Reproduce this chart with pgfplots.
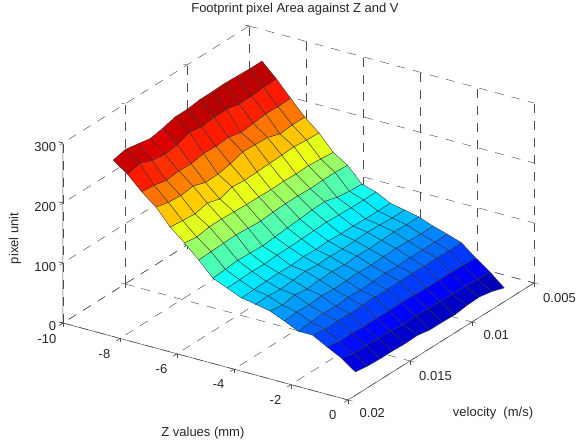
\documentclass[border=0pt]{standalone}
\usepackage{pgfplots}
\pgfplotsset{compat=1.18}
\usepackage{pgfplotstable}
\usepackage{fontspec}
\setmainfont{Liberation Sans}
\pgfplotstableread{
x y z
-8.5 0.0194 283
-8.5 0.0184 288
-8.5 0.0174 284
-8.5 0.0164 280
-8.5 0.0154 284
-8.5 0.0144 290
-8.5 0.0134 290
-8.5 0.0124 293
-8.5 0.0114 293
-8.5 0.0104 294
-8.5 0.0094 293
-8.5 0.0084 292
-8.5 0.0074 292
-8 0.0194 266
-8 0.0184 271
-8 0.0174 263
-8 0.0164 260
-8 0.0154 263
-8 0.0144 271
-8 0.0134 267
-8 0.0124 270
-8 0.0114 270
-8 0.0104 266
-8 0.0094 266
-8 0.0084 268
-8 0.0074 269
-7.5 0.0194 243
-7.5 0.0184 241
-7.5 0.0174 236
-7.5 0.0164 239
-7.5 0.0154 238
-7.5 0.0144 242
-7.5 0.0134 241
-7.5 0.0124 243
-7.5 0.0114 238
-7.5 0.0104 240
-7.5 0.0094 243
-7.5 0.0084 242
-7.5 0.0074 243
-7 0.0194 224
-7 0.0184 219
-7 0.0174 217
-7 0.0164 220
-7 0.0154 213
-7 0.0144 214
-7 0.0134 218
-7 0.0124 225
-7 0.0114 224
-7 0.0104 223
-7 0.0094 216
-7 0.0084 218
-7 0.0074 218
-6.5 0.0194 197
-6.5 0.0184 195
-6.5 0.0174 193
-6.5 0.0164 198
-6.5 0.0154 192
-6.5 0.0144 199
-6.5 0.0134 197
-6.5 0.0124 198
-6.5 0.0114 199
-6.5 0.0104 200
-6.5 0.0094 201
-6.5 0.0084 199
-6.5 0.0074 198
-6 0.0194 177
-6 0.0184 174
-6 0.0174 178
-6 0.0164 178
-6 0.0154 177
-6 0.0144 176
-6 0.0134 176
-6 0.0124 175
-6 0.0114 176
-6 0.0104 175
-6 0.0094 176
-6 0.0084 174
-6 0.0074 172
-5.5 0.0194 155
-5.5 0.0184 156
-5.5 0.0174 157
-5.5 0.0164 158
-5.5 0.0154 156
-5.5 0.0144 155
-5.5 0.0134 157
-5.5 0.0124 158
-5.5 0.0114 158
-5.5 0.0104 157
-5.5 0.0094 158
-5.5 0.0084 158
-5.5 0.0074 157
-5 0.0194 131
-5 0.0184 133
-5 0.0174 135
-5 0.0164 134
-5 0.0154 133
-5 0.0144 135
-5 0.0134 137
-5 0.0124 139
-5 0.0114 141
-5 0.0104 142
-5 0.0094 136
-5 0.0084 133
-5 0.0074 132
-4.5 0.0194 121
-4.5 0.0184 122
-4.5 0.0174 123
-4.5 0.0164 122
-4.5 0.0154 124
-4.5 0.0144 124
-4.5 0.0134 125
-4.5 0.0124 126
-4.5 0.0114 127
-4.5 0.0104 126
-4.5 0.0094 125
-4.5 0.0084 125
-4.5 0.0074 125
-4 0.0194 111
-4 0.0184 112
-4 0.0174 113
-4 0.0164 114
-4 0.0154 113
-4 0.0144 115
-4 0.0134 114
-4 0.0124 115
-4 0.0114 114
-4 0.0104 114
-4 0.0094 113
-4 0.0084 113
-4 0.0074 113
-3.5 0.0194 107
-3.5 0.0184 108
-3.5 0.0174 106
-3.5 0.0164 108
-3.5 0.0154 110
-3.5 0.0144 108
-3.5 0.0134 109
-3.5 0.0124 108
-3.5 0.0114 109
-3.5 0.0104 110
-3.5 0.0094 109
-3.5 0.0084 108
-3.5 0.0074 108
-3 0.0194 102
-3 0.0184 99
-3 0.0174 103
-3 0.0164 100
-3 0.0154 102
-3 0.0144 103
-3 0.0134 101
-3 0.0124 103
-3 0.0114 102
-3 0.0104 103
-3 0.0094 104
-3 0.0084 103
-3 0.0074 103
-2.5 0.0194 92
-2.5 0.0184 94
-2.5 0.0174 93
-2.5 0.0164 95
-2.5 0.0154 93
-2.5 0.0144 94
-2.5 0.0134 95
-2.5 0.0124 94
-2.5 0.0114 95
-2.5 0.0104 96
-2.5 0.0094 95
-2.5 0.0084 94
-2.5 0.0074 94
-2 0.0194 81
-2 0.0184 84
-2 0.0174 85
-2 0.0164 84
-2 0.0154 86
-2 0.0144 85
-2 0.0134 86
-2 0.0124 87
-2 0.0114 86
-2 0.0104 87
-2 0.0094 87
-2 0.0084 87
-2 0.0074 87
-1.5 0.0194 81
-1.5 0.0184 78
-1.5 0.0174 79
-1.5 0.0164 78
-1.5 0.0154 79
-1.5 0.0144 80
-1.5 0.0134 79
-1.5 0.0124 80
-1.5 0.0114 80
-1.5 0.0104 79
-1.5 0.0094 80
-1.5 0.0084 79
-1.5 0.0074 79
-1 0.0194 68
-1 0.0184 64
-1 0.0174 65
-1 0.0164 63
-1 0.0154 64
-1 0.0144 63
-1 0.0134 64
-1 0.0124 63
-1 0.0114 62
-1 0.0104 62
-1 0.0094 62
-1 0.0084 61
-1 0.0074 60
-0.5 0.0194 56
-0.5 0.0184 50
-0.5 0.0174 51
-0.5 0.0164 49
-0.5 0.0154 49
-0.5 0.0144 47
-0.5 0.0134 48
-0.5 0.0124 47
-0.5 0.0114 46
-0.5 0.0104 45
-0.5 0.0094 45
-0.5 0.0084 44
-0.5 0.0074 43
0 0.0194 39
0 0.0184 36
0 0.0174 35
0 0.0164 35
0 0.0154 34
0 0.0144 35
0 0.0134 31
0 0.0124 31
0 0.0114 30
0 0.0104 33
0 0.0094 34
0 0.0084 30
0 0.0074 23
}\surfdata
\begin{document}
\begin{tikzpicture}[x=1pt,y=1pt]
\useasboundingbox (0,0) rectangle (579,446);
\begin{axis}[
  at={(534pt,163pt)},anchor=origin,
  x={(28.5pt,-7.7pt)},
  y={(12400pt,7800pt)},
  y dir=reverse,
  z={(0pt,0.6pt)},
  xmin=-10,xmax=0,ymin=0.005,ymax=0.02,zmin=0,zmax=300,
  xtick={-10,-8,-6,-4,-2,0},
  ytick={0.005,0.01,0.015,0.02},
  yticklabels={0.005,0.01,0.015,0.02},
  scaled y ticks=false,
  ztick={0,100,200,300},
  grid=major,
  major grid style={black!70,line width=0.45pt,dash pattern=on 9pt off 8pt},
  axis line style={draw=none},
  tick style={black!70,line width=0.4pt},
  tick align=outside,
  tick pos=left,
  major tick length=4pt,
  tick label style={font=\fontsize{13}{15}\selectfont,black!85},
  xticklabel style={xshift=-7pt,yshift=-4pt},
  yticklabel style={xshift=11pt},
  /pgf/number format/assume math mode=true,
  title={Footprint pixel Area against Z and V},
  title style={at={(axis description cs:0.4926,1.03)},anchor=center,font=\fontsize{13}{15}\selectfont,black!85},
  xlabel={Z values (mm)},
  xlabel style={at={(axis description cs:0.297,-0.088)},anchor=center,rotate=0,font=\fontsize{13}{15}\selectfont,black!85},
  ylabel={velocity\ \ (m/s)},
  ylabel style={at={(axis description cs:0.913,-0.035)},anchor=center,rotate=0,font=\fontsize{13}{15}\selectfont,black!85},
  zlabel={pixel unit},
  zlabel style={at={(axis description cs:-0.102,0.432)},anchor=center,rotate=0,font=\fontsize{13}{15}\selectfont,black!85},
  colormap/jet,
  point meta min=20,point meta max=297,
  clip=false,
]
\addplot3[surf,shader=faceted,faceted color=black!80,line width=0.35pt,mesh/rows=18] table[x=x,y=y,z=z] {\surfdata};
\draw[black!70,line width=0.5pt] (axis cs:-10,0.02,300) -- (axis cs:-10,0.02,0) -- (axis cs:0,0.02,0) -- (axis cs:0,0.005,0);
\pgfplotsinvokeforeach{-10,-8,-6,-4,-2,0}{
  \draw[black!70,line width=0.4pt] (axis cs:#1,0.02,0) -- (axis cs:#1,0.0203,0);
}
\pgfplotsinvokeforeach{0.005,0.01,0.015,0.02}{
  \draw[black!70,line width=0.4pt] (axis cs:0,#1,0) -- (axis cs:0.16,#1,0);
}
\pgfplotsinvokeforeach{0,100,200,300}{
  \draw[black!70,line width=0.4pt] (axis cs:-10,0.02,#1) -- (axis cs:-10.16,0.02,#1);
}
\end{axis}
\end{tikzpicture}
\end{document}
